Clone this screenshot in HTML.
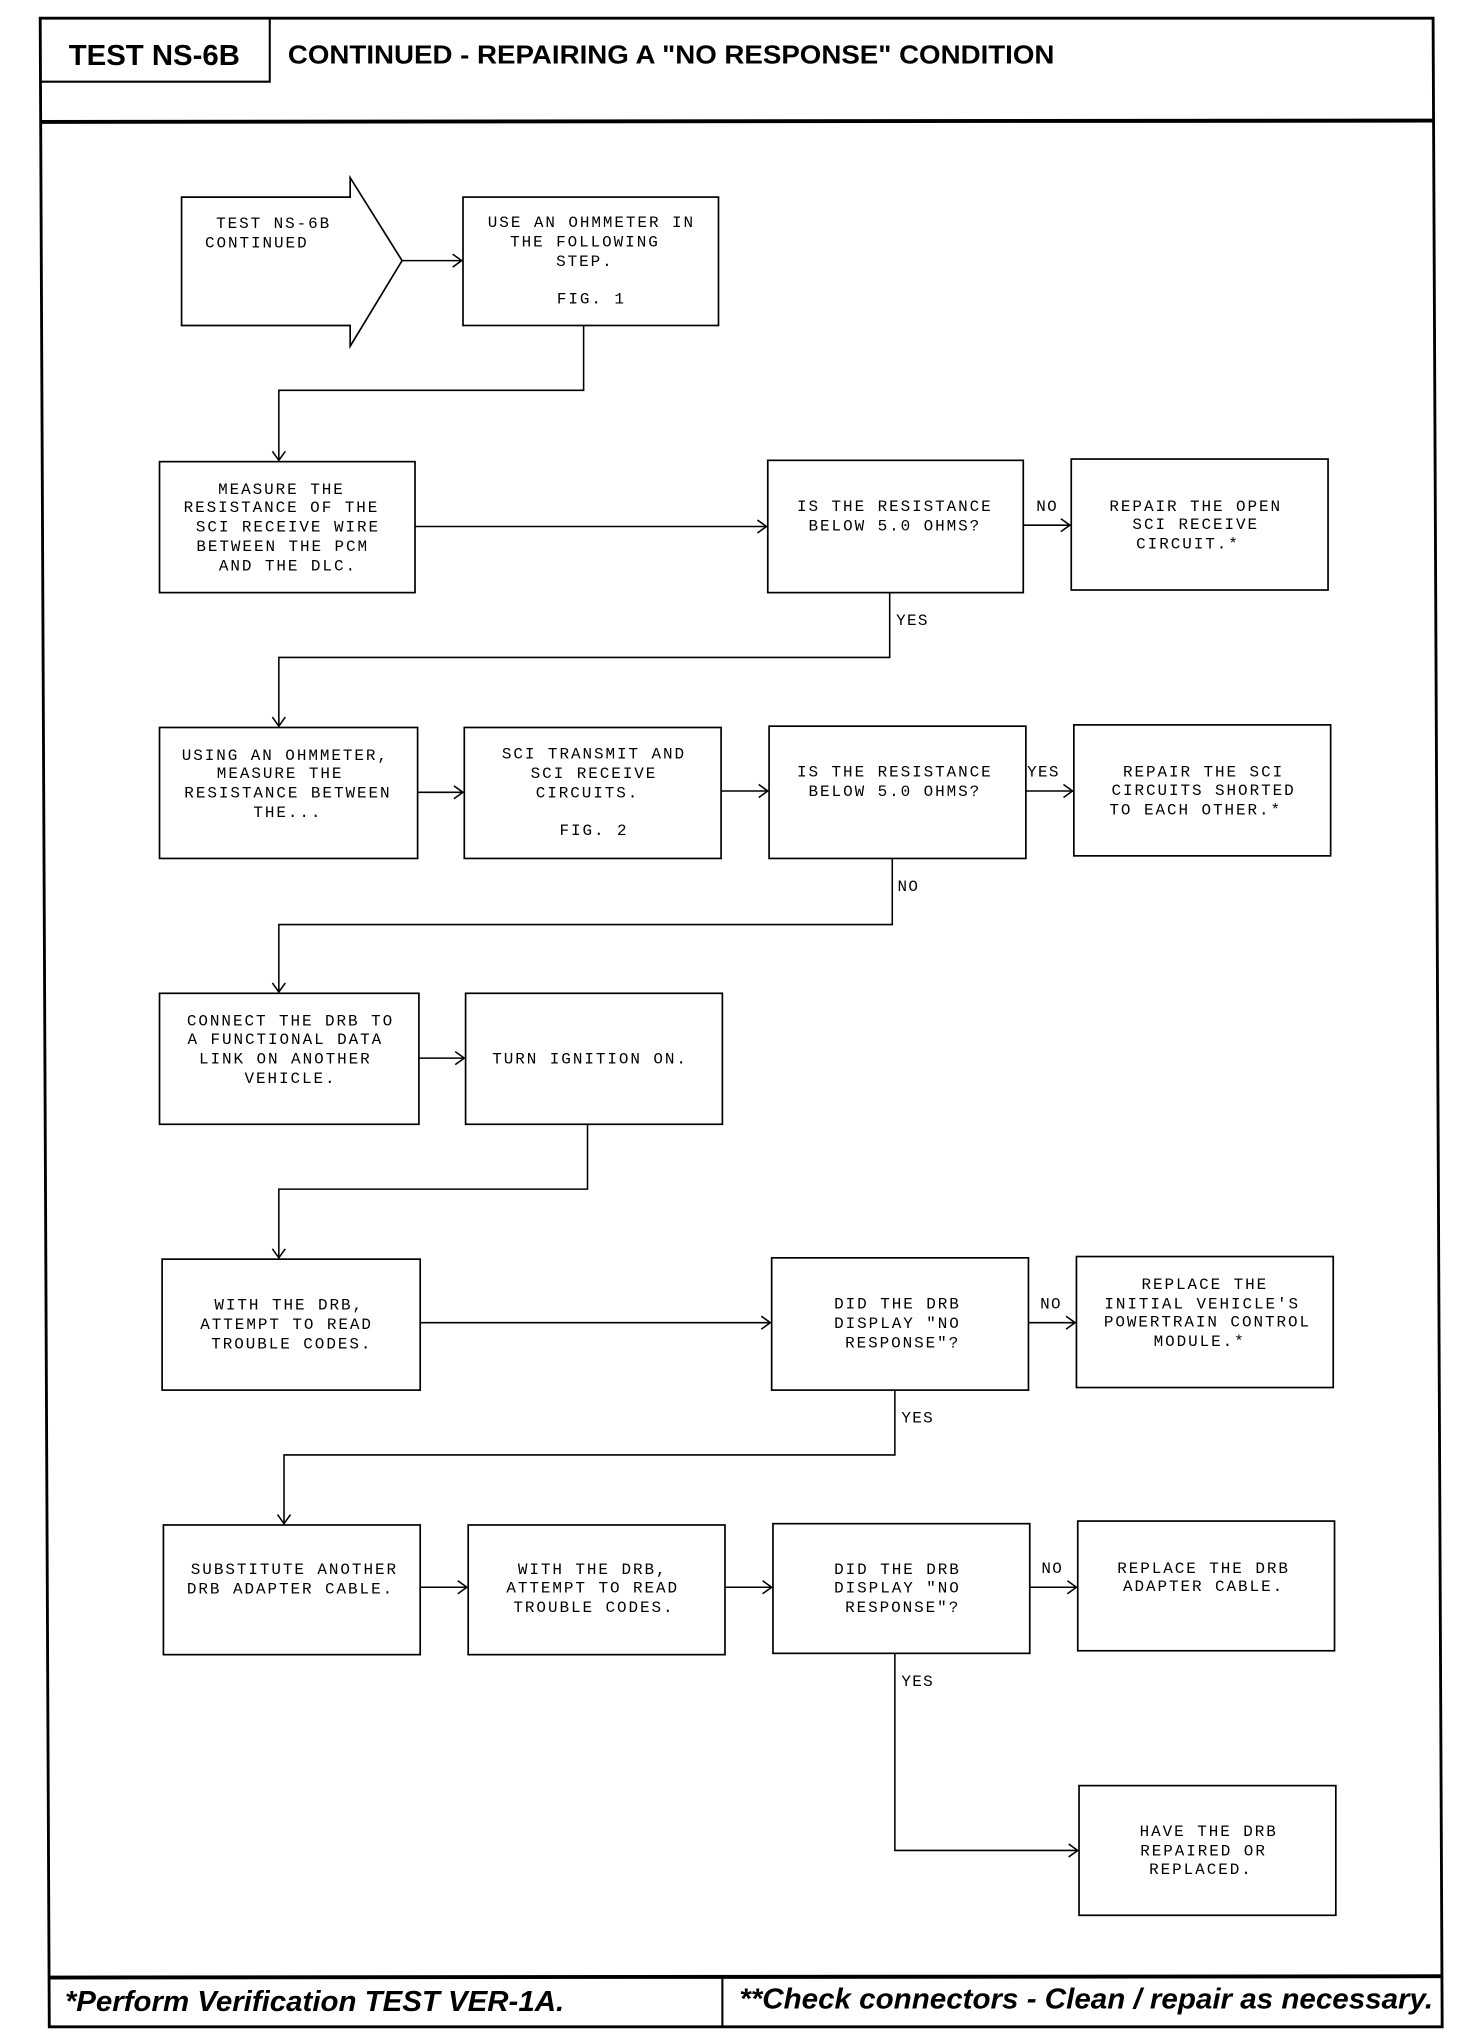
<!DOCTYPE html>
<html><head><meta charset="utf-8"><style>
html,body{margin:0;padding:0;background:#fff;}
svg{display:block;}
.t{font-family:"Liberation Mono",monospace;font-size:12.3px;letter-spacing:1.5px;text-anchor:middle;fill:#000;}
.l{font-family:"Liberation Mono",monospace;font-size:12.3px;letter-spacing:1px;fill:#000;}
.h{font-family:"Liberation Sans",sans-serif;font-weight:bold;fill:#000;}
.b{fill:#fff;stroke:#000;stroke-width:1.3;}
.c{fill:none;stroke:#000;stroke-width:1.2;}
</style></head><body>
<svg width="1472" height="2032" viewBox="0 0 1135 1567" preserveAspectRatio="none" xmlns="http://www.w3.org/2000/svg">
<!-- frame -->
<polygon points="31,14 1105,14 1112,1563 38,1563" fill="none" stroke="#000" stroke-width="2.2"/>
<line x1="31" y1="94" x2="1106" y2="93" stroke="#000" stroke-width="3"/>
<polyline points="31,63 208,63 208,14" fill="none" stroke="#000" stroke-width="1.6"/>
<text class="h" x="53" y="50" font-size="22" textLength="132" lengthAdjust="spacingAndGlyphs">TEST NS-6B</text>
<text class="h" x="222" y="49" font-size="20" textLength="591" lengthAdjust="spacingAndGlyphs">CONTINUED - REPAIRING A "NO RESPONSE" CONDITION</text>
<!-- footer -->
<line x1="37" y1="1525" x2="1112" y2="1524" stroke="#000" stroke-width="3"/>
<line x1="557" y1="1525" x2="557" y2="1563" stroke="#000" stroke-width="1.6"/>
<text class="h" x="50" y="1551" font-size="22" font-style="italic" textLength="385" lengthAdjust="spacingAndGlyphs">*Perform Verification TEST VER-1A.</text>
<text class="h" x="570" y="1549" font-size="22" font-style="italic" textLength="535" lengthAdjust="spacingAndGlyphs">**Check connectors - Clean / repair as necessary.</text>

<!-- start arrow -->
<polygon class="b" points="140,152 270,152 270,137 310,201 270,267 270,251 140,251"/>
<text class="t" x="211" y="176">TEST NS-6B</text>
<text class="t" x="198" y="191">CONTINUED</text>
<g class="c"><line x1="310" y1="201" x2="356" y2="201"/><polyline points="349,196 356,201 349,206"/></g>
<rect class="b" x="357" y="152" width="197" height="99"/>
<text class="t" x="456" y="175">USE AN OHMMETER IN</text>
<text class="t" x="451" y="190">THE FOLLOWING</text>
<text class="t" x="451" y="205">STEP.</text>
<text class="t" x="456" y="234">FIG. 1</text>
<g class="c"><polyline points="450,251 450,301 215,301 215,355"/><polyline points="210,348 215,355 220,348"/></g>

<!-- row 2 -->
<rect class="b" x="123" y="356" width="197" height="101"/>
<text class="t" x="217" y="381">MEASURE THE</text>
<text class="t" x="217" y="395">RESISTANCE OF THE</text>
<text class="t" x="222" y="410">SCI RECEIVE WIRE</text>
<text class="t" x="218" y="425">BETWEEN THE PCM</text>
<text class="t" x="222" y="440">AND THE DLC.</text>
<g class="c"><line x1="320" y1="406" x2="591" y2="406"/><polyline points="584,401 591,406 584,411"/></g>
<rect class="b" x="592" y="355" width="197" height="102"/>
<text class="t" x="690" y="394">IS THE RESISTANCE</text>
<text class="t" x="690" y="409">BELOW 5.0 OHMS?</text>
<text class="l" x="799" y="394">NO</text>
<g class="c"><line x1="789" y1="405" x2="825" y2="405"/><polyline points="818,400 825,405 818,410"/></g>
<rect class="b" x="826" y="354" width="198" height="101"/>
<text class="t" x="922" y="394">REPAIR THE OPEN</text>
<text class="t" x="922" y="408">SCI RECEIVE</text>
<text class="t" x="916" y="423">CIRCUIT.*</text>
<text class="l" x="691" y="482">YES</text>
<g class="c"><polyline points="686,457 686,507 215,507 215,560"/><polyline points="210,553 215,560 220,553"/></g>

<!-- row 3 -->
<rect class="b" x="123" y="561" width="199" height="101"/>
<text class="t" x="220" y="586">USING AN OHMMETER,</text>
<text class="t" x="216" y="600">MEASURE THE</text>
<text class="t" x="222" y="615">RESISTANCE BETWEEN</text>
<text class="t" x="222" y="630">THE...</text>
<g class="c"><line x1="322" y1="611" x2="357" y2="611"/><polyline points="350,606 357,611 350,616"/></g>
<rect class="b" x="358" y="561" width="198" height="101"/>
<text class="t" x="458" y="585">SCI TRANSMIT AND</text>
<text class="t" x="458" y="600">SCI RECEIVE</text>
<text class="t" x="453" y="615">CIRCUITS.</text>
<text class="t" x="458" y="644">FIG. 2</text>
<g class="c"><line x1="556" y1="610" x2="592" y2="610"/><polyline points="585,605 592,610 585,615"/></g>
<rect class="b" x="593" y="560" width="198" height="102"/>
<text class="t" x="690" y="599">IS THE RESISTANCE</text>
<text class="t" x="690" y="614">BELOW 5.0 OHMS?</text>
<text class="l" x="792" y="599">YES</text>
<g class="c"><line x1="791" y1="610" x2="827" y2="610"/><polyline points="820,605 827,610 820,615"/></g>
<rect class="b" x="828" y="559" width="198" height="101"/>
<text class="t" x="928" y="599">REPAIR THE SCI</text>
<text class="t" x="928" y="613">CIRCUITS SHORTED</text>
<text class="t" x="922" y="628">TO EACH OTHER.*</text>
<text class="l" x="692" y="687">NO</text>
<g class="c"><polyline points="688,662 688,713 215,713 215,765"/><polyline points="210,758 215,765 220,758"/></g>

<!-- row 4 -->
<rect class="b" x="123" y="766" width="200" height="101"/>
<text class="t" x="224" y="791">CONNECT THE DRB TO</text>
<text class="t" x="220" y="805">A FUNCTIONAL DATA</text>
<text class="t" x="220" y="820">LINK ON ANOTHER</text>
<text class="t" x="224" y="835">VEHICLE.</text>
<g class="c"><line x1="323" y1="816" x2="358" y2="816"/><polyline points="351,811 358,816 351,821"/></g>
<rect class="b" x="359" y="766" width="198" height="101"/>
<text class="t" x="455" y="820">TURN IGNITION ON.</text>
<g class="c"><polyline points="453,867 453,917 215,917 215,970"/><polyline points="210,963 215,970 220,963"/></g>

<!-- row 5 -->
<rect class="b" x="125" y="971" width="199" height="101"/>
<text class="t" x="223" y="1010">WITH THE DRB,</text>
<text class="t" x="221" y="1025">ATTEMPT TO READ</text>
<text class="t" x="225" y="1040">TROUBLE CODES.</text>
<g class="c"><line x1="324" y1="1020" x2="594" y2="1020"/><polyline points="587,1015 594,1020 587,1025"/></g>
<rect class="b" x="595" y="970" width="198" height="102"/>
<text class="t" x="692" y="1009">DID THE DRB</text>
<text class="t" x="692" y="1024">DISPLAY "NO</text>
<text class="t" x="696" y="1039">RESPONSE"?</text>
<text class="l" x="802" y="1009">NO</text>
<g class="c"><line x1="793" y1="1020" x2="829" y2="1020"/><polyline points="822,1015 829,1020 822,1025"/></g>
<rect class="b" x="830" y="969" width="198" height="101"/>
<text class="t" x="929" y="994">REPLACE THE</text>
<text class="t" x="927" y="1009">INITIAL VEHICLE'S</text>
<text class="t" x="931" y="1023">POWERTRAIN CONTROL</text>
<text class="t" x="925" y="1038">MODULE.*</text>
<text class="l" x="695" y="1097">YES</text>
<g class="c"><polyline points="690,1072 690,1122 219,1122 219,1175"/><polyline points="214,1168 219,1175 224,1168"/></g>

<!-- row 6 -->
<rect class="b" x="126" y="1176" width="198" height="100"/>
<text class="t" x="227" y="1214">SUBSTITUTE ANOTHER</text>
<text class="t" x="224" y="1229">DRB ADAPTER CABLE.</text>
<g class="c"><line x1="324" y1="1224" x2="360" y2="1224"/><polyline points="353,1219 360,1224 353,1229"/></g>
<rect class="b" x="361" y="1176" width="198" height="100"/>
<text class="t" x="457" y="1214">WITH THE DRB,</text>
<text class="t" x="457" y="1228">ATTEMPT TO READ</text>
<text class="t" x="458" y="1243">TROUBLE CODES.</text>
<g class="c"><line x1="559" y1="1224" x2="595" y2="1224"/><polyline points="588,1219 595,1224 588,1229"/></g>
<rect class="b" x="596" y="1175" width="198" height="100"/>
<text class="t" x="692" y="1214">DID THE DRB</text>
<text class="t" x="692" y="1228">DISPLAY "NO</text>
<text class="t" x="696" y="1243">RESPONSE"?</text>
<text class="l" x="803" y="1213">NO</text>
<g class="c"><line x1="794" y1="1224" x2="830" y2="1224"/><polyline points="823,1219 830,1224 823,1229"/></g>
<rect class="b" x="831" y="1173" width="198" height="100"/>
<text class="t" x="928" y="1213">REPLACE THE DRB</text>
<text class="t" x="928" y="1227">ADAPTER CABLE.</text>
<text class="l" x="695" y="1300">YES</text>
<g class="c"><polyline points="690,1275 690,1427 831,1427"/><polyline points="824,1422 831,1427 824,1432"/></g>
<rect class="b" x="832" y="1377" width="198" height="100"/>
<text class="t" x="932" y="1416">HAVE THE DRB</text>
<text class="t" x="928" y="1431">REPAIRED OR</text>
<text class="t" x="926" y="1445">REPLACED.</text>
</svg>
</body></html>
